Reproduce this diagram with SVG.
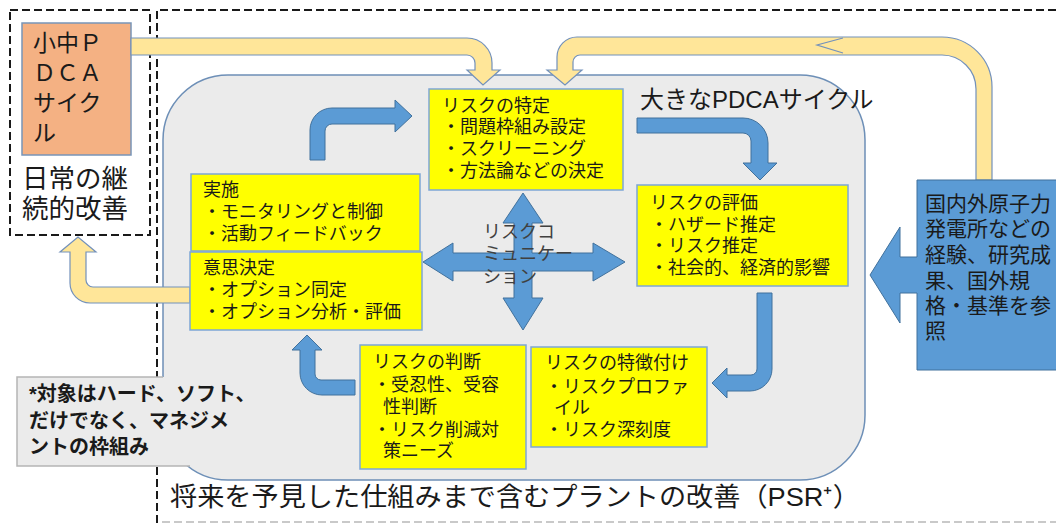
<svg xmlns="http://www.w3.org/2000/svg" width="1056" height="524" viewBox="0 0 1056 524">
<style>
text{font-family:"Liberation Sans","Noto Sans CJK JP",sans-serif;fill:#1a1a1a}
.dash{fill:none;stroke:#1a1a1a;stroke-width:2;stroke-dasharray:8 4}
.ybox{fill:#ffff00;stroke:#7ea6d6;stroke-width:1.5}
.blue{fill:#5b9bd5;stroke:#41719c;stroke-width:1}
.cream{fill:#ffe699;stroke:#7391bb;stroke-width:1.2}
.t18{font-size:18px}
</style>
<rect width="1056" height="524" fill="#ffffff"/>
<g id="frames">
<rect class="dash" x="10" y="10" width="140" height="225"/>
<path class="dash" d="M1056,10 H157 V524"/>
<line x1="162" y1="522" x2="1056" y2="522" stroke="#b8b8b8" stroke-width="1.5" stroke-dasharray="8 4"/>
</g>
<g id="big-cycle">
<rect x="163" y="75" width="702" height="405" rx="65" ry="65" fill="#ebebeb" stroke="#6d8fb7" stroke-width="1.5"/>
<text x="640" y="108" font-size="24">大きなPDCAサイクル</text>
</g>
<g id="note">
<rect x="17" y="377" width="290" height="89" fill="#ebebeb"/>
<path d="M163,377 H17 V466 H190" fill="none" stroke="#b5b5b5" stroke-width="1.5"/>
<text font-size="20" font-weight="bold"><tspan x="29" y="401">*対象はハード、ソフト、</tspan><tspan x="29" y="428">だけでなく、マネジメ</tspan><tspan x="29" y="454">ントの枠組み</tspan></text>
</g>
<g id="small-pdca">
<rect x="22" y="23" width="109" height="132" fill="#f4b183" stroke="#7895b8" stroke-width="1.5"/>
<text font-size="23"><tspan x="33" y="51">小中Ｐ</tspan><tspan x="33" y="81">ＤＣＡ</tspan><tspan x="33" y="111">サイク</tspan><tspan x="33" y="141">ル</tspan></text>
</g>
<g id="daily">
<text font-size="26.5"><tspan x="22" y="188">日常の継</tspan><tspan x="22" y="218">続的改善</tspan></text>
</g>
<g id="plant">
<text x="170" y="506" font-size="26" textLength="690" lengthAdjust="spacingAndGlyphs">将来を予見した仕組みまで含むプラントの改善（PSR⁺）</text>
</g>
<g id="connectors">
<path class="cream" d="M131,38 H467 A25,25 0 0 1 492,63 V70 H500 L483,85 L467,70 H475 V63 A8,8 0 0 0 467,55 H131 Z"/>
<path class="cream" d="M992,180 V87 A50,50 0 0 0 942,37 H577 A20,20 0 0 0 557,57 V70 H547 L565,85 L582,70 H573 V62 A7,7 0 0 1 580,55 H942 A34,34 0 0 1 976,89 V180 Z"/>
<path d="M843,38 L817,45 L843,53" fill="none" stroke="#7391bb" stroke-width="1.2"/>
<path class="cream" d="M190,287 H93 A7,7 0 0 1 86,280 V252 H96 L78,237 L60,252 H70 V283 A20,20 0 0 0 90,303 H190 Z"/>
<path class="blue" d="M310,160 V130 A22,22 0 0 1 332,108 H395 V100 L412,116 L395,132 V124 H332 A7,7 0 0 0 325,131 V160 Z"/>
<path class="blue" d="M637,118 H743 A25,25 0 0 1 768,143 V163 H777 L760,180 L743,163 H751 V141 A8,8 0 0 0 743,133 H637 Z"/>
<path class="blue" d="M757,293 H772 V369 A22,22 0 0 1 750,391 H727 V398 L712,383 L727,368 V375 H751 A6,6 0 0 0 757,369 Z"/>
<path class="blue" d="M355,380 H321 A6,6 0 0 1 315,374 V350 H322 L307,335 L292,350 H300 V373 A22,22 0 0 0 322,395 H355 Z"/>
<path class="blue" d="M423,262 L453,243 V253 H514 V223 H503 L523,193 L543,223 H532 V253 H593 V243 L625,262 L593,281 V271 H532 V298 H543 L523,330 L503,298 H514 V271 H453 V281 Z"/>
</g>
<g id="risk-comm">
<text class="t18" style="fill:#404040"><tspan x="483" y="238">リスクコ</tspan><tspan x="483" y="260">ミュニケー</tspan><tspan x="483" y="283">ション</tspan></text>
</g>
<g id="identify">
<rect class="ybox" x="429" y="89" width="194" height="101"/>
<text class="t18"><tspan x="442" y="112">リスクの特定</tspan><tspan x="442" y="133">・問題枠組み設定</tspan><tspan x="442" y="155">・スクリーニング</tspan><tspan x="442" y="177">・方法論などの決定</tspan></text>
</g>
<g id="implement">
<rect class="ybox" x="191" y="174" width="229" height="77"/>
<text class="t18"><tspan x="203" y="196">実施</tspan><tspan x="203" y="218">・モニタリングと制御</tspan><tspan x="203" y="240">・活動フィードバック</tspan></text>
</g>
<g id="decide">
<rect class="ybox" x="190" y="252" width="232" height="78"/>
<text class="t18"><tspan x="203" y="274">意思決定</tspan><tspan x="203" y="296">・オプション同定</tspan><tspan x="203" y="318">・オプション分析・評価</tspan></text>
</g>
<g id="assess">
<rect class="ybox" x="637" y="185" width="211" height="101"/>
<text class="t18"><tspan x="650" y="209">リスクの評価</tspan><tspan x="650" y="231">・ハザード推定</tspan><tspan x="650" y="252">・リスク推定</tspan><tspan x="650" y="274">・社会的、経済的影響</tspan></text>
</g>
<g id="judge">
<rect class="ybox" x="360" y="345" width="166" height="124"/>
<text class="t18"><tspan x="373" y="368">リスクの判断</tspan><tspan x="373" y="391">・受忍性、受容</tspan><tspan x="383" y="413">性判断</tspan><tspan x="373" y="436">・リスク削減対</tspan><tspan x="383" y="457">策ニーズ</tspan></text>
</g>
<g id="characterize">
<rect class="ybox" x="531" y="347" width="176" height="100"/>
<text class="t18"><tspan x="545" y="369">リスクの特徴付け</tspan><tspan x="545" y="393">・リスクプロファ</tspan><tspan x="554" y="414">イル</tspan><tspan x="545" y="436">・リスク深刻度</tspan></text>
</g>
<g id="external">
<path class="blue" d="M917,180 H1058 V370 H917 V293 H900 V323 L870,275 L900,227 V257 H917 Z"/>
<text font-size="21"><tspan x="925" y="211">国内外原子力</tspan><tspan x="925" y="236">発電所などの</tspan><tspan x="925" y="262">経験、研究成</tspan><tspan x="925" y="288">果、国外規</tspan><tspan x="925" y="313">格・基準を参</tspan><tspan x="925" y="338">照</tspan></text>
</g>
</svg>
